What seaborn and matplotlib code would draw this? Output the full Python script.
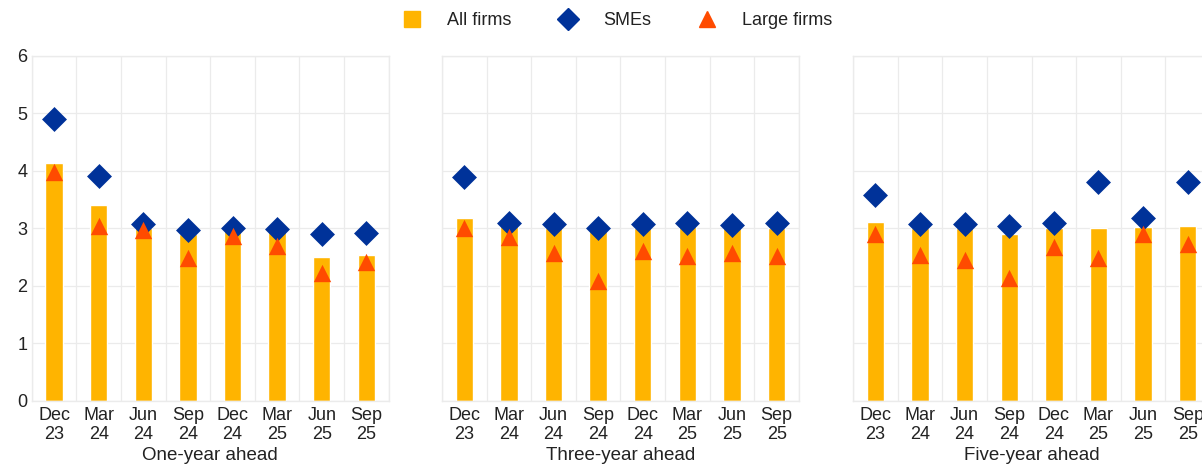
import numpy as np
import pandas as pd
import matplotlib
matplotlib.use("Agg")
import matplotlib.pyplot as plt
from matplotlib.lines import Line2D
import seaborn as sns

# survey rounds
periods = ["Dec\n23", "Mar\n24", "Jun\n24", "Sep\n24", "Dec\n24", "Mar\n25", "Jun\n25", "Sep\n25"]
horizons = ["One-year ahead", "Three-year ahead", "Five-year ahead"]

# median expected inflation, one-year ahead
all_1y = [4.14, 3.41, 3.00, 2.90, 3.00, 2.95, 2.50, 2.54]
sme_1y = [4.91, 3.91, 3.07, 2.97, 3.00, 2.99, 2.90, 2.92]
large_1y = [3.98, 3.05, 2.97, 2.48, 2.87, 2.69, 2.23, 2.42]

# three-year ahead
all_3y = [3.18, 3.05, 3.00, 2.95, 3.00, 3.05, 3.00, 3.00]
sme_3y = [3.90, 3.10, 3.08, 3.01, 3.07, 3.10, 3.06, 3.09]
large_3y = [3.01, 2.85, 2.57, 2.09, 2.61, 2.52, 2.58, 2.52]

# five-year ahead
all_5y = [3.11, 3.00, 3.00, 2.91, 3.00, 3.01, 3.02, 3.04]
sme_5y = [3.59, 3.08, 3.08, 3.04, 3.09, 3.81, 3.18, 3.81]
large_5y = [2.90, 2.54, 2.45, 2.13, 2.67, 2.49, 2.90, 2.73]

ORANGE = "#FFB400"
BLUE = "#003299"
RED = "#FF4B00"
GRID = "#EBEBEB"

sns.set_theme(style="white")
plt.rcParams["font.family"] = ["Liberation Sans", "DejaVu Sans"]
plt.rcParams["text.color"] = "#222222"
plt.rcParams["axes.labelcolor"] = "#222222"
plt.rcParams["xtick.color"] = "#222222"
plt.rcParams["ytick.color"] = "#222222"

fig = plt.figure(figsize=(12.02, 4.66), dpi=100)

panels = [
    (all_1y, sme_1y, large_1y),
    (all_3y, sme_3y, large_3y),
    (all_5y, sme_5y, large_5y),
]
lefts = [0.0264, 0.3677, 0.7097]

for i, (vals_all, vals_sme, vals_large) in enumerate(panels):
    ax = fig.add_axes([lefts[i], 0.1395, 0.297, 0.7405])
    df = pd.DataFrame({"period": periods, "all": vals_all,
                       "sme": vals_sme, "large": vals_large})

    sns.barplot(data=df, x="period", y="all", color=ORANGE, saturation=1,
                width=0.39, ax=ax, zorder=2)
    sns.stripplot(data=df, x="period", y="sme", marker="D", color=BLUE,
                  size=12.7, jitter=False, linewidth=0, ax=ax, zorder=3)
    sns.stripplot(data=df, x="period", y="large", marker="^", color=RED,
                  size=12.5, jitter=False, linewidth=0, ax=ax, zorder=4)

    ax.set_ylim(0, 6)
    ax.set_xlim(-0.5, len(periods) - 0.5)
    ax.set_yticks(range(0, 7))
    ax.set_xticks(np.arange(len(periods)))
    ax.set_xticklabels(periods, fontsize=13, linespacing=1.22)
    ax.set_xticks(np.arange(len(periods) + 1) - 0.5, minor=True)
    ax.grid(False)
    ax.yaxis.grid(True, color=GRID, linewidth=0.9, zorder=0)
    ax.xaxis.grid(True, which="minor", color=GRID, linewidth=0.9, zorder=0)
    ax.tick_params(axis="both", which="both", length=0, labelsize=13)
    ax.tick_params(axis="x", pad=4)
    ax.tick_params(axis="y", pad=3)
    if i > 0:
        ax.tick_params(axis="y", labelleft=False)
    ax.set_ylabel("")
    ax.set_xlabel(horizons[i], fontsize=13.5, labelpad=2.5)
    for sp in ax.spines.values():
        sp.set_color(GRID)
        sp.set_linewidth(1.0)
    ax.set_axisbelow(True)

handles = [
    Line2D([], [], marker="s", linestyle="none", color=ORANGE, markersize=11.3),
    Line2D([], [], marker="D", linestyle="none", color=BLUE, markersize=11),
    Line2D([], [], marker="^", linestyle="none", color=RED, markersize=11),
]
fig.legend(handles, ["All firms", "SMEs", "Large firms"], loc="center",
           bbox_to_anchor=(0.514, 0.955), ncol=3, frameon=False, fontsize=13,
           handletextpad=1.45, columnspacing=2.6, handlelength=1.0)

fig.savefig("out.png", dpi=100)
